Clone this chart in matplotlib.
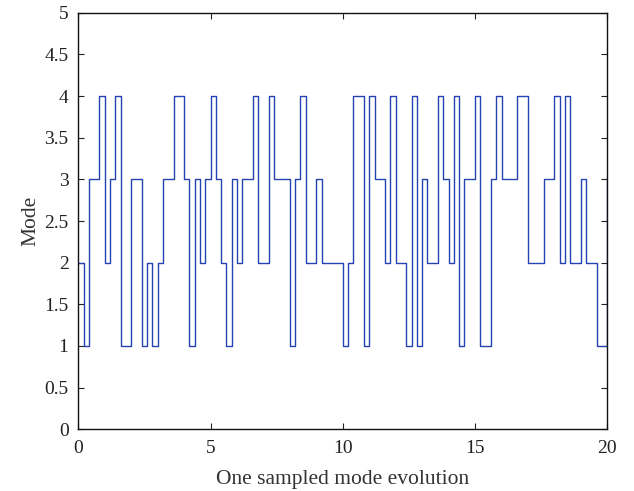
import numpy as np
import matplotlib.pyplot as plt

# sampled mode sequence, step 0.2 on [0, 20]
t = np.arange(101) * 0.2
mode = [2, 1, 3, 3, 4, 2, 3, 4, 1, 1,
        3, 3, 1, 2, 1, 2, 3, 3, 4, 4,
        3, 1, 3, 2, 3, 4, 3, 2, 1, 3,
        2, 3, 3, 4, 2, 2, 4, 3, 3, 3,
        1, 3, 4, 2, 2, 3, 2, 2, 2, 2,
        1, 2, 4, 4, 1, 4, 3, 3, 2, 4,
        2, 2, 1, 4, 1, 3, 2, 2, 4, 3,
        2, 4, 1, 3, 3, 4, 1, 1, 3, 4,
        3, 3, 3, 4, 4, 2, 2, 2, 3, 3,
        4, 2, 4, 2, 2, 3, 2, 2, 1, 1,
        3]

xticks = [0, 5, 10, 15, 20]
yticks = [0, 0.5, 1, 1.5, 2, 2.5, 3, 3.5, 4, 4.5, 5]
ytick_labels = ["0", "0.5", "1", "1.5", "2", "2.5", "3", "3.5", "4", "4.5", "5"]

plt.rcParams['font.family'] = ['Liberation Serif', 'DejaVu Serif']

fig = plt.figure(figsize=(6.34, 4.91), dpi=100)
ax = fig.add_axes([78.3 / 634, 1 - 429.3 / 491, (607.3 - 78.3) / 634, (429.3 - 12.7) / 491])

ax.step(t, mode, where='post', color='#2443b0', lw=1.0)

ax.set_xlim(0, 20)
ax.set_ylim(0, 5)
ax.set_xticks(xticks)
ax.set_yticks(yticks)
ax.set_yticklabels(ytick_labels)
ax.tick_params(direction='in', top=True, right=True, length=4, width=0.8,
               labelsize=14, colors='#222222')
ax.tick_params(axis='x', pad=8)
ax.tick_params(axis='y', pad=7)
for s in ax.spines.values():
    s.set_linewidth(1.0)
    s.set_color('#111111')

ax.set_xlabel("One sampled mode evolution", fontsize=15.5, color='#333333', labelpad=9)
ax.set_ylabel("Mode", fontsize=15.5, color='#333333', labelpad=3)

fig.savefig("out.png", dpi=100)
